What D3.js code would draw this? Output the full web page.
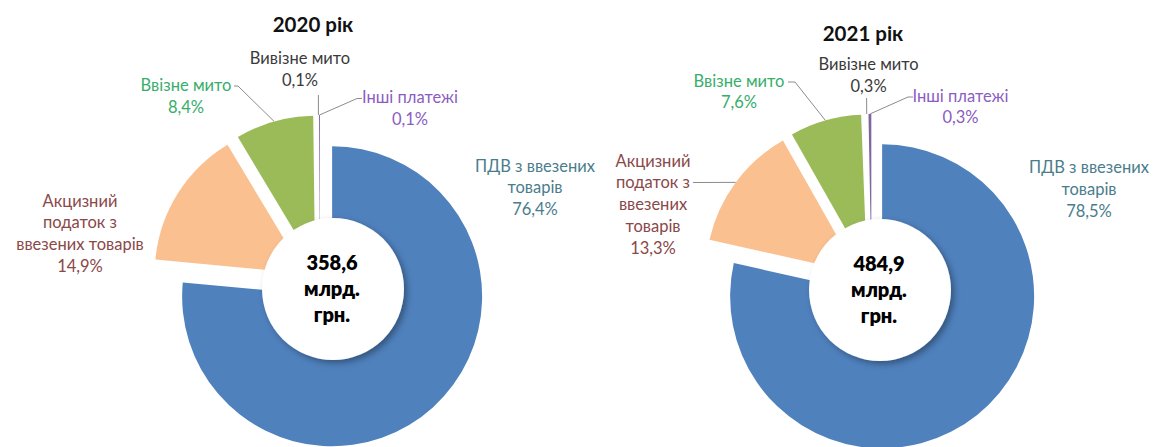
<!DOCTYPE html>
<html>
<head>
<meta charset="utf-8">
<script src="https://cdn.jsdelivr.net/npm/d3@7"></script>
<style>
  body { margin: 0; background: #fff; }
  svg { display: block; }
  .lbl { font-family: Lato, "Open Sans", sans-serif; font-size: 16.5px; }
  .title { font-family: Lato, "Open Sans", sans-serif; font-size: 20.5px; font-weight: 700; fill: #111; }
  .total { font-family: Lato, "Open Sans", sans-serif; font-size: 20px; font-weight: 800; fill: #000; }
</style>
</head>
<body>
<svg width="1153" height="447"></svg>
<script>
// data
const categories = ["ПДВ з ввезених товарів", "Акцизний податок з ввезених товарів", "Ввізне мито", "Вивізне мито", "Інші платежі"];
const years = ["2020 рік", "2021 рік"];
const shares2020 = [76.4, 14.9, 8.4, 0.1, 0.1];
const shares2021 = [78.5, 13.3, 7.6, 0.3, 0.3];
const totals = ["358,6", "484,9"];
const totalUnit = ["млрд.", "грн."];
const labelLines2020 = [["ПДВ з ввезених", "товарів"], ["Акцизний", "податок з", "ввезених товарів"], ["Ввізне мито"], ["Вивізне мито"], ["Інші платежі"]];
const labelLines2021 = [["ПДВ з ввезених", "товарів"], ["Акцизний", "податок з", "ввезених", "товарів"], ["Ввізне мито"], ["Вивізне мито"], ["Інші платежі"]];

const sliceColors = ["#4F81BD", "#FAC090", "#9BBB59", "#ffffff", "#8064A2"];
const labelColors = ["#4A7D8C", "#8A4848", "#36AE6A", "#3a3a3a", "#8B5CC2"];

// layout (positions only)
const layouts = [
  { cx: 320, cy: 283, r: 150, explode: 18, hole: [333, 289], holeR: 71, title: [313, 32],
    labels: [
      { x: 535, y: 171.5 },
      { x: 80, y: 206.7 },
      { x: 186, y: 91, leader: [[234, 86], [238, 86]] },
      { x: 300, y: 64, leader: [[318.4, 95]] },
      { x: 410, y: 103, leader: [[362, 98.5], [357, 98.5]] }
    ] },
  { cx: 871.5, cy: 283, r: 152, explode: 17, hole: [880, 290], holeR: 71, title: [863, 40.7],
    labels: [
      { x: 1089, y: 173.3 },
      { x: 653, y: 166.7, leader: [[693, 182.5], [698, 182.5]] },
      { x: 739, y: 86.7, leader: [[788, 82], [795, 82]] },
      { x: 868.6, y: 70, leader: [[866.6, 98]] },
      { x: 960.5, y: 101.7, leader: [[913, 97], [908, 97]] }
    ] }
];

const lineH = 21.7;
const fmtPct = v => v.toFixed(1).replace(".", ",") + "%";

const svg = d3.select("svg");
const defs = svg.append("defs");
const shadow = defs.append("filter").attr("id", "shadow")
  .attr("x", "-30%").attr("y", "-30%").attr("width", "160%").attr("height", "160%");
shadow.append("feDropShadow")
  .attr("dx", 3).attr("dy", 3).attr("stdDeviation", 3)
  .attr("flood-color", "#000").attr("flood-opacity", 0.35);

const pie = d3.pie().sort(null).value(d => d);

function drawChart(shares, lines, L, i) {
  const g = svg.append("g");
  const arcs = pie(shares);
  const arc = d3.arc().innerRadius(0).outerRadius(L.r);

  // offset of an exploded slice along its bisector
  const shift = d => {
    const a = (d.startAngle + d.endAngle) / 2;
    return [L.cx + L.explode * Math.sin(a), L.cy - L.explode * Math.cos(a)];
  };
  // point on the outer edge in the middle of the slice
  const edge = d => {
    const a = (d.startAngle + d.endAngle) / 2;
    const s = shift(d);
    return [s[0] + L.r * Math.sin(a), s[1] - L.r * Math.cos(a)];
  };

  g.selectAll("path.slice")
    .data(arcs)
    .join("path")
    .attr("class", "slice")
    .attr("transform", d => "translate(" + shift(d) + ")")
    .attr("d", arc)
    .attr("fill", (d, k) => sliceColors[k]);

  // leader lines
  arcs.forEach((d, k) => {
    const lab = L.labels[k];
    if (!lab.leader) return;
    const pts = lab.leader.concat([edge(d)]);
    g.append("path")
      .attr("d", d3.line()(pts))
      .attr("fill", "none")
      .attr("stroke", "#8c8c8c")
      .attr("stroke-width", 1);
  });

  // labels
  arcs.forEach((d, k) => {
    const lab = L.labels[k];
    const rows = lines[k].concat([fmtPct(shares[k])]);
    const t = g.append("text")
      .attr("class", "lbl")
      .attr("text-anchor", "middle")
      .attr("fill", labelColors[k]);
    rows.forEach((row, j) => {
      t.append("tspan").attr("x", lab.x).attr("y", lab.y + j * lineH).text(row);
    });
  });

  // title
  g.append("text").attr("class", "title")
    .attr("x", L.title[0]).attr("y", L.title[1])
    .attr("text-anchor", "middle")
    .text(years[i]);

  // centre disc with total
  g.append("circle")
    .attr("cx", L.hole[0]).attr("cy", L.hole[1]).attr("r", L.holeR)
    .attr("fill", "#fff")
    .attr("filter", "url(#shadow)");
  const tt = g.append("text").attr("class", "total").attr("text-anchor", "middle");
  [totals[i]].concat(totalUnit).forEach((row, j) => {
    tt.append("tspan").attr("x", L.hole[0] - 1).attr("y", L.hole[1] - 19 + j * 26).text(row);
  });
}

drawChart(shares2020, labelLines2020, layouts[0], 0);
drawChart(shares2021, labelLines2021, layouts[1], 1);
</script>
</body>
</html>
